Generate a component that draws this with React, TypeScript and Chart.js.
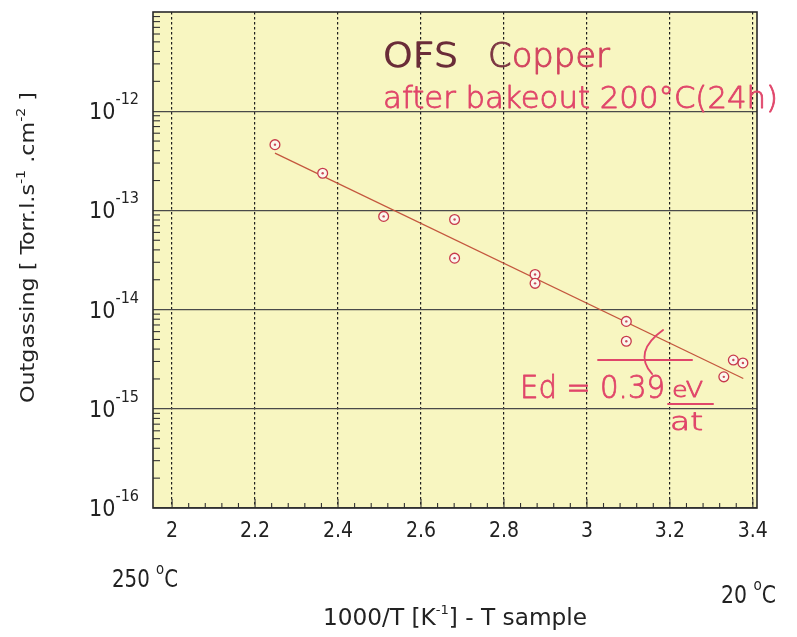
import React, { useEffect, useRef } from 'react';
import { Chart, registerables } from 'chart.js';

Chart.register(...registerables);

// ---- data ----
const invT = [2.248, 2.363, 2.51, 2.681, 2.681, 2.875, 2.875, 3.095, 3.095, 3.33, 3.353, 3.376];
const outgassing = [4.6e-13, 2.37e-13, 8.7e-14, 8.1e-14, 3.3e-14, 2.26e-14, 1.84e-14, 7.6e-15, 4.8e-15, 2.1e-15, 3.1e-15, 2.9e-15];
const fitInvT = [2.248, 3.377];
const fitOutgassing = [3.78e-13, 2.02e-15];
const xTicks = [2, 2.2, 2.4, 2.6, 2.8, 3, 3.2, 3.4];
const xTickLabels = ['2', '2.2', '2.4', '2.6', '2.8', '3', '3.2', '3.4'];
const yTicks = [1e-12, 1e-13, 1e-14, 1e-15, 1e-16];
const yTickExponents = ['-12', '-13', '-14', '-15', '-16'];
const X_MIN = 1.954;
const X_MAX = 3.41;
const Y_MIN = 1e-16;
const Y_MAX = 1e-11;

const FONT_C = "'DejaVu Sans Condensed', 'DejaVu Sans', sans-serif";
const FONT_HW = "'DejaVu Sans', sans-serif";

type Seg = [string, number, number?, string?];

function rich(
  ctx: CanvasRenderingContext2D,
  segs: Seg[],
  o: {
    x: number; y: number; width?: number; color: string; rotate?: number; sy?: number;
    family?: string; weight?: string; stroke?: number;
  }
) {
  const fam = o.family || FONT_C;
  const weight = o.weight || 'normal';
  const widths: number[] = [];
  let total = 0;
  for (const s of segs) {
    ctx.font = `${weight} ${s[1]}px ${fam}`;
    const w = ctx.measureText(s[0]).width;
    widths.push(w);
    total += w;
  }
  const k = o.width ? o.width / total : 1;
  ctx.save();
  ctx.translate(o.x, o.y);
  if (o.rotate) ctx.rotate(o.rotate);
  ctx.scale(k, o.sy || 1);
  ctx.textAlign = 'left';
  ctx.textBaseline = 'alphabetic';
  ctx.lineJoin = 'round';
  let cx = 0;
  segs.forEach((s, i) => {
    ctx.font = `${weight} ${s[1]}px ${fam}`;
    const col = s[3] || o.color;
    ctx.fillStyle = col;
    ctx.fillText(s[0], cx, s[2] || 0);
    if (o.stroke) {
      ctx.strokeStyle = col;
      ctx.lineWidth = o.stroke;
      ctx.strokeText(s[0], cx, s[2] || 0);
    }
    cx += widths[i];
  });
  ctx.restore();
}

const decorPlugin = {
  id: 'decor',
  beforeDraw(chart: any) {
    const { ctx, chartArea: a } = chart;
    ctx.save();
    ctx.fillStyle = '#ffffff';
    ctx.fillRect(0, 0, chart.width, chart.height);
    ctx.fillStyle = '#f8f6c1';
    ctx.fillRect(a.left, a.top, a.right - a.left, a.bottom - a.top);
    ctx.restore();
  },
  afterDatasetsDraw(chart: any) {
    const { ctx, chartArea: a, scales } = chart;
    const xs = scales.x;
    const ys = scales.y;
    ctx.save();
    ctx.strokeStyle = '#333';
    ctx.lineWidth = 1.1;
    // minor ticks, left axis (inside)
    for (let e = -16; e <= -12; e++) {
      for (let m = 2; m <= 9; m++) {
        const y = ys.getPixelForValue(m * Math.pow(10, e));
        ctx.beginPath();
        ctx.moveTo(a.left, y);
        ctx.lineTo(a.left + 7, y);
        ctx.stroke();
      }
    }
    // minor ticks, bottom axis (inside)
    for (let k = 0; k <= 35; k++) {
      const v = 2 + 0.04 * k;
      const x = xs.getPixelForValue(v);
      const len = k % 5 === 0 ? 9 : 5;
      ctx.beginPath();
      ctx.moveTo(x, a.bottom);
      ctx.lineTo(x, a.bottom - len);
      ctx.stroke();
    }
    // frame
    ctx.strokeStyle = '#2a2a2a';
    ctx.lineWidth = 1.6;
    ctx.strokeRect(a.left, a.top, a.right - a.left, a.bottom - a.top);
    ctx.restore();
  },
  afterDraw(chart: any) {
    const { ctx, scales } = chart;
    const xs = scales.x;
    const ys = scales.y;
    const X = (v: number) => xs.getPixelForValue(v);
    const Y = (lg: number) => ys.getPixelForValue(Math.pow(10, lg));

    // y tick labels with superscript exponents
    yTicks.forEach((v, i) => {
      const y = ys.getPixelForValue(v);
      rich(ctx, [['10', 23, 0], [yTickExponents[i], 16, -15]], { x: 89, y: y + 8, width: 50, color: '#222' });
    });

    // y axis title (rotated)
    rich(
      ctx,
      [['Outgassing [ Torr.l.s', 22, 0], ['-1', 14, -10], [' .cm', 22, 0], ['-2', 14, -10], [' ]', 22, 0]],
      { x: 34, y: 403, width: 311, color: '#222', rotate: -Math.PI / 2, sy: 0.88 }
    );

    // x axis title
    rich(ctx, [['1000/T [K', 23, 0], ['-1', 13, -11], ['] - T sample', 23, 0]], { x: 323, y: 625, width: 264, color: '#222' });

    // temperature marks
    rich(ctx, [['250 ', 24, 0], ['o', 16, -13], ['C', 24, 0]], { x: 112, y: 587, width: 66, color: '#222' });
    rich(ctx, [['20 ', 24, 0], ['o', 16, -13], ['C', 24, 0]], { x: 721, y: 603, width: 55, color: '#222' });

    // handwritten annotations
    const red = '#e0466a';
    const hw = { family: FONT_HW, weight: '200' };
    rich(ctx, [['OFS', 33, 0]], { x: X(2.5085), y: Y(-11.554), width: 75, color: '#6a2c38', stroke: 1.6, ...hw });
    rich(ctx, [['C', 33, 0, '#7b3541'], ['opper', 33, 0, '#d2445f']], { x: X(2.7616), y: Y(-11.554), width: 122, color: '#d2445f', stroke: 0.9, ...hw });
    rich(ctx, [['after bakeout 200°C(24h)', 30, 0]], { x: X(2.5085), y: Y(-11.968), width: 395, color: red, stroke: 0.8, ...hw });
    rich(ctx, [['Ed = 0.39', 32, 0]], { x: X(2.8388), y: Y(-14.891), width: 145, color: red, stroke: 0.8, ...hw });
    rich(ctx, [['eV', 22, 0]], { x: X(3.2052), y: Y(-14.881), width: 31, color: red, stroke: 0.8, ...hw });
    rich(ctx, [['at', 25, 0]], { x: X(3.2004), y: Y(-15.214), width: 33, color: red, stroke: 0.8, ...hw });

    ctx.save();
    ctx.strokeStyle = red;
    ctx.lineWidth = 1.9;
    ctx.lineCap = 'round';
    // fraction bar
    ctx.beginPath();
    ctx.moveTo(X(3.1956), Y(-14.952));
    ctx.lineTo(X(3.3041), Y(-14.952));
    ctx.stroke();
    // angle reference line
    ctx.beginPath();
    ctx.moveTo(X(3.0268), Y(-14.508));
    ctx.lineTo(X(3.2534), Y(-14.508));
    ctx.stroke();
    // angle arc
    ctx.beginPath();
    ctx.moveTo(X(3.1835), Y(-14.206));
    ctx.quadraticCurveTo(X(3.11), Y(-14.427), X(3.157), Y(-14.649));
    ctx.stroke();
    ctx.restore();
  },
};

export default function App() {
  const ref = useRef<HTMLCanvasElement>(null);

  useEffect(() => {
    const pts = invT.map((x, i) => ({ x, y: outgassing[i] }));
    const fit = fitInvT.map((x, i) => ({ x, y: fitOutgassing[i] }));
    const chart = new Chart(ref.current as HTMLCanvasElement, {
      type: 'scatter',
      data: {
        datasets: [
          {
            label: 'centres',
            data: pts,
            order: 0,
            pointRadius: 1.2,
            pointBackgroundColor: '#cc4a5c',
            pointBorderWidth: 0,
            showLine: false,
          },
          {
            label: 'Outgassing',
            data: pts,
            order: 1,
            pointRadius: 4.9,
            pointBorderWidth: 1.3,
            pointBorderColor: '#c7394b',
            pointBackgroundColor: '#fbf7ee',
            showLine: false,
          },
          {
            label: 'fit',
            data: fit,
            order: 2,
            showLine: true,
            pointRadius: 0,
            borderColor: '#c4573e',
            borderWidth: 1.3,
            fill: false,
          } as any,
        ],
      },
      options: {
        responsive: false,
        animation: false,
        devicePixelRatio: 1,
        layout: { padding: { top: 12, right: 40, left: 0, bottom: 0 } },
        plugins: {
          legend: { display: false },
          tooltip: { enabled: false },
          title: { display: false },
        },
        scales: {
          x: {
            type: 'linear',
            position: 'bottom',
            min: X_MIN,
            max: X_MAX,
            afterBuildTicks: (s: any) => {
              s.ticks = xTicks.map((v) => ({ value: v }));
            },
            afterFit: (s: any) => {
              s.height = 129;
            },
            ticks: {
              callback: (_v: any, i: number) => xTickLabels[i] ?? '',
              font: { family: FONT_C, size: 21 },
              color: '#222',
              padding: 11,
              maxRotation: 0,
              autoSkip: false,
            },
            grid: { color: '#1e1e1e', lineWidth: 1.2, drawTicks: false },
            border: { display: false, dash: [2.5, 2.5] },
          },
          y: {
            type: 'logarithmic',
            min: Y_MIN,
            max: Y_MAX,
            afterBuildTicks: (s: any) => {
              s.ticks = yTicks.map((v) => ({ value: v }));
            },
            afterFit: (s: any) => {
              s.width = 153;
            },
            ticks: { display: false },
            grid: { color: '#4a4a4a', lineWidth: 1.3, drawTicks: false },
            border: { display: false },
          },
        },
      } as any,
      plugins: [decorPlugin as any],
    });
    return () => chart.destroy();
  }, []);

  return (
    <div style={{ position: 'fixed', left: 0, top: 0, width: 797, height: 637, background: '#fff' }}>
      <canvas ref={ref} width={797} height={637} style={{ display: 'block', width: 797, height: 637 }} />
    </div>
  );
}
